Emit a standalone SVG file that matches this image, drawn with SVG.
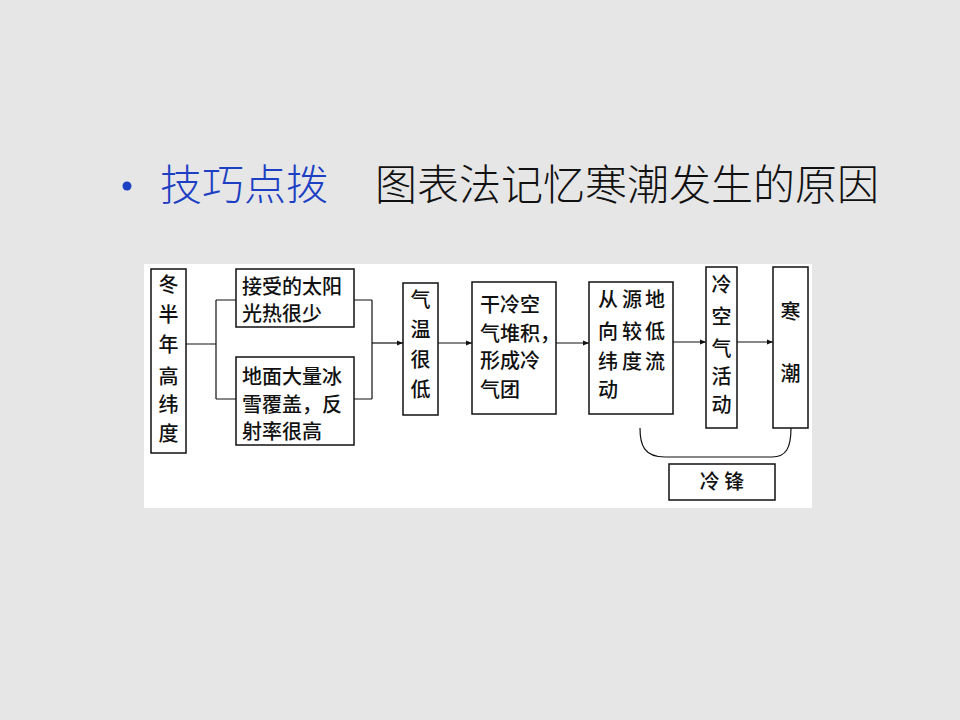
<svg xmlns="http://www.w3.org/2000/svg" width="960" height="720" viewBox="0 0 960 720">
<defs>
<style>
.bx{fill:#fff;stroke:#111;stroke-width:1.5}
.ln{fill:none;stroke:#111;stroke-width:1.2}
.t{font-family:"Noto Sans CJK SC","Noto Sans CJK JP",sans-serif;font-size:20px;font-weight:500;fill:#111}
.vc{text-anchor:middle}
</style>
<marker id="ar" viewBox="0 0 10 10" refX="10" refY="5" markerWidth="9" markerHeight="6" markerUnits="userSpaceOnUse" orient="auto">
<path d="M0,1 L10,5 L0,9 Z" fill="#111"/>
</marker>
</defs>
<rect width="960" height="720" fill="#e6e6e6"/>
<g id="title">
<circle cx="127" cy="186" r="4.5" fill="#1c3fc4"/>
<text x="160" y="200" font-family="'Noto Sans CJK SC',sans-serif" font-size="42" font-weight="300" fill="#1c3fc4">技巧点拨</text>
<text x="375" y="200" font-family="'Noto Sans CJK SC',sans-serif" font-size="42" font-weight="300" fill="#111">图表法记忆寒潮发生的原因</text>
</g>
<rect x="144" y="264" width="668" height="244" fill="#fff"/>
<g id="connectors">
<path class="ln" d="M186,344 H216 M216,300 V399 M216,300 H236 M216,399 H236"/>
<path class="ln" d="M354,300 H372 M354,399 H372 M372,300 V399"/>
<path class="ln" d="M372,343 H403" marker-end="url(#ar)"/>
<path class="ln" d="M438,343 H472" marker-end="url(#ar)"/>
<path class="ln" d="M556,343 H589" marker-end="url(#ar)"/>
<path class="ln" d="M673,342 H706" marker-end="url(#ar)"/>
<path class="ln" d="M737,342 H773" marker-end="url(#ar)"/>
<path class="ln" d="M640,428 C640,445 644,457 665,457 H772 C786,457 791,448 791,428"/>
</g>
<g id="n1">
<rect class="bx" x="151" y="269" width="35" height="184"/>
<text class="t vc" x="168.5" y="292">冬</text>
<text class="t vc" x="168.5" y="322">半</text>
<text class="t vc" x="168.5" y="352">年</text>
<text class="t vc" x="168.5" y="384">高</text>
<text class="t vc" x="168.5" y="412">纬</text>
<text class="t vc" x="168.5" y="441">度</text>
</g>
<g id="n2">
<rect class="bx" x="236" y="269" width="118" height="58"/>
<text class="t" x="242" y="294" font-size="21">接受的太阳</text>
<text class="t" x="242" y="321" font-size="21">光热很少</text>
</g>
<g id="n3">
<rect class="bx" x="236" y="357" width="118" height="88"/>
<text class="t" x="242" y="384" font-size="21">地面大量冰</text>
<text class="t" x="242" y="412" font-size="21">雪覆盖，反</text>
<text class="t" x="242" y="439" font-size="21">射率很高</text>
</g>
<g id="n4">
<rect class="bx" x="403" y="283" width="35" height="132"/>
<text class="t vc" x="420.5" y="307">气</text>
<text class="t vc" x="420.5" y="337">温</text>
<text class="t vc" x="420.5" y="367">很</text>
<text class="t vc" x="420.5" y="397">低</text>
</g>
<g id="n5">
<rect class="bx" x="472" y="282" width="84" height="132"/>
<text class="t" x="480" y="312" font-size="21">干冷空</text>
<text class="t" x="480" y="341" font-size="21">气堆积，</text>
<text class="t" x="480" y="368" font-size="21">形成冷</text>
<text class="t" x="480" y="397" font-size="21">气团</text>
</g>
<g id="n6">
<rect class="bx" x="589" y="282" width="84" height="132"/>
<text class="t vc" y="307"><tspan x="608">从</tspan><tspan x="632">源</tspan><tspan x="655">地</tspan></text>
<text class="t vc" y="339"><tspan x="608">向</tspan><tspan x="632">较</tspan><tspan x="655">低</tspan></text>
<text class="t vc" y="369"><tspan x="608">纬</tspan><tspan x="632">度</tspan><tspan x="655">流</tspan></text>
<text class="t vc" y="397"><tspan x="608">动</tspan></text>
</g>
<g id="n7">
<rect class="bx" x="706" y="267" width="31" height="161"/>
<text class="t vc" x="721.5" y="292">冷</text>
<text class="t vc" x="721.5" y="324">空</text>
<text class="t vc" x="721.5" y="356">气</text>
<text class="t vc" x="721.5" y="384">活</text>
<text class="t vc" x="721.5" y="412">动</text>
</g>
<g id="n8">
<rect class="bx" x="773" y="267" width="35" height="161"/>
<text class="t vc" x="790.5" y="319">寒</text>
<text class="t vc" x="790.5" y="381">潮</text>
</g>
<g id="n9">
<rect class="bx" x="669" y="464" width="106" height="36"/>
<text class="t vc" x="722" y="489">冷 锋</text>
</g>
</svg>
